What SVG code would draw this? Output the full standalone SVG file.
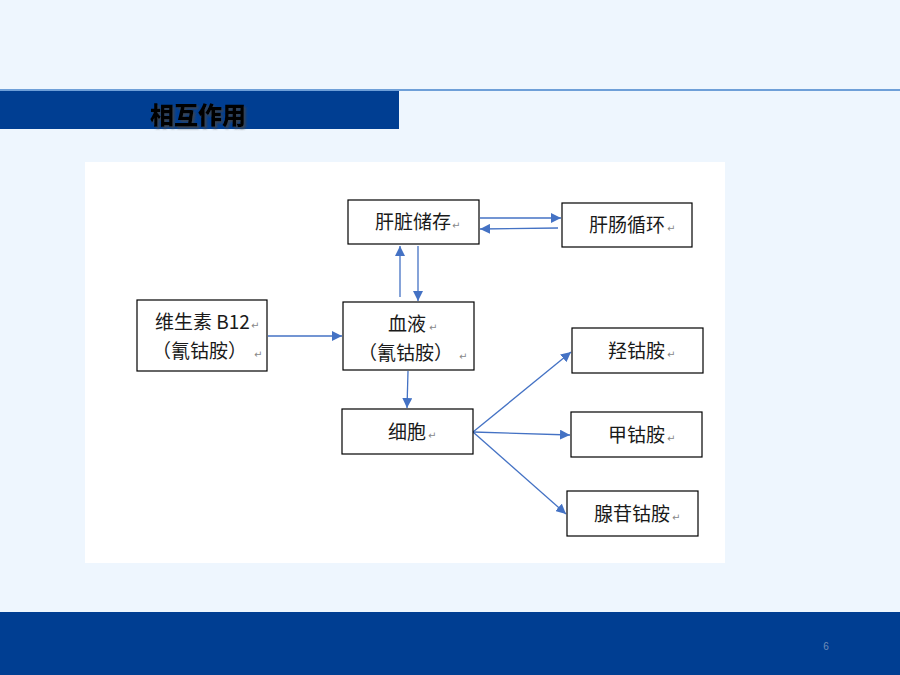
<svg xmlns="http://www.w3.org/2000/svg" width="900" height="675" viewBox="0 0 900 675">
<defs>
<style>
.box{fill:#fff;stroke:#000;stroke-width:1.2}
.t{font-family:"Noto Sans CJK SC","Liberation Sans",sans-serif;font-size:19px;fill:#1a1a1a}
.rm{font-family:"DejaVu Sans",sans-serif;font-size:10px;fill:#888}
.c{stroke:#4472C4;stroke-width:1.3;fill:none;marker-end:url(#ah)}
</style>
<marker id="ah" viewBox="0 0 10 10" refX="10" refY="5" markerWidth="10" markerHeight="10" markerUnits="userSpaceOnUse" orient="auto">
<path d="M0,0 L10,5 L0,10 z" fill="#4472C4"/>
</marker>
<filter id="sh" x="-10%" y="-20%" width="130%" height="160%">
<feGaussianBlur in="SourceAlpha" stdDeviation="1"/>
<feOffset dx="2" dy="2" result="b"/>
<feFlood flood-color="#444" flood-opacity="0.8"/>
<feComposite in2="b" operator="in"/>
<feMerge><feMergeNode/><feMergeNode in="SourceGraphic"/></feMerge>
</filter>
</defs>
<rect width="900" height="675" fill="#EEF6FE"/>
<rect x="0" y="89" width="900" height="2" fill="#6E9FD8"/>
<rect x="0" y="91" width="399" height="38" fill="#003E92"/>
<text x="150" y="124" font-family="'Noto Sans CJK SC',sans-serif" font-size="24" font-weight="900" fill="#000" filter="url(#sh)">相互作用</text>
<rect x="0" y="612" width="900" height="63" fill="#003E92"/>
<text x="826" y="650" font-family="'Liberation Sans',sans-serif" font-size="10" fill="#6F8DB8" text-anchor="middle">6</text>
<rect x="85" y="162" width="640" height="401" fill="#fff"/>

<g id="connectors">
<line class="c" x1="480" y1="218" x2="561" y2="218"/>
<line class="c" x1="558" y1="228" x2="480" y2="229"/>
<line class="c" x1="400" y1="297" x2="400" y2="246"/>
<line class="c" x1="418" y1="246" x2="418" y2="301"/>
<line class="c" x1="268" y1="336" x2="342" y2="336"/>
<line class="c" x1="408" y1="371" x2="407" y2="408"/>
<line class="c" x1="473" y1="432" x2="571" y2="352"/>
<line class="c" x1="473" y1="432" x2="570" y2="435"/>
<line class="c" x1="473" y1="432" x2="566" y2="514"/>
</g>

<g id="liver">
<rect class="box" x="348" y="200" width="131" height="44"/>
<text class="t" x="375" y="229">肝脏储存</text><text class="rm" x="452" y="229">↵</text>
</g>
<g id="enterohepatic">
<rect class="box" x="562" y="203" width="130" height="44"/>
<text class="t" x="589" y="232">肝肠循环</text><text class="rm" x="667" y="232">↵</text>
</g>
<g id="b12">
<rect class="box" x="137" y="300" width="130" height="71"/>
<text class="t" x="155" y="329">维生素 B12</text><text class="rm" x="251" y="329">↵</text>
<text class="t" x="152" y="358">（氰钴胺）</text><text class="rm" x="254" y="358">↵</text>
</g>
<g id="blood">
<rect class="box" x="343" y="302" width="131" height="68"/>
<text class="t" x="388" y="331">血液</text><text class="rm" x="429" y="331">↵</text>
<text class="t" x="358" y="360">（氰钴胺）</text><text class="rm" x="459" y="360">↵</text>
</g>
<g id="cell">
<rect class="box" x="342" y="409" width="131" height="45"/>
<text class="t" x="388" y="439">细胞</text><text class="rm" x="428" y="439">↵</text>
</g>
<g id="hydroxocobalamin">
<rect class="box" x="572" y="328" width="131" height="45"/>
<text class="t" x="608" y="358">羟钴胺</text><text class="rm" x="667" y="358">↵</text>
</g>
<g id="methylcobalamin">
<rect class="box" x="571" y="412" width="131" height="45"/>
<text class="t" x="608" y="442">甲钴胺</text><text class="rm" x="667" y="442">↵</text>
</g>
<g id="adenosylcobalamin">
<rect class="box" x="567" y="491" width="131" height="45"/>
<text class="t" x="594" y="521">腺苷钴胺</text><text class="rm" x="672" y="521">↵</text>
</g>
</svg>
